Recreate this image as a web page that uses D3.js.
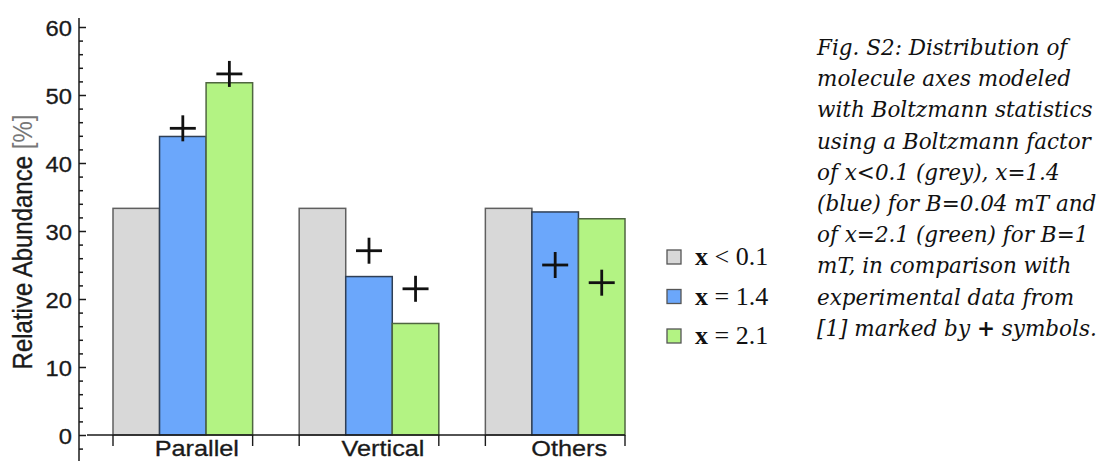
<!DOCTYPE html>
<html><head><meta charset="utf-8">
<script src="https://cdn.jsdelivr.net/npm/d3@7/dist/d3.min.js"></script>
<style>
html,body{margin:0;padding:0;background:#fff;}
svg{display:block;}
</style></head>
<body>
<svg id="chart" width="1099" height="461"></svg>
<script>
// ---- data ----
const categories = ["Parallel", "Vertical", "Others"];
const seriesKeys = ["grey", "blue", "green"];
const greyValues = [33.33, 33.33, 33.33];
const blueValues = [43.9, 23.3, 32.8];
const greenValues = [51.8, 16.4, 31.8];
const expBlue = [45.1, 27.1, 25.0];
const expGreen = [53.1, 21.5, 22.4];
const yMajorTicks = [0, 10, 20, 30, 40, 50, 60];
const yMinorTicks = d3.range(-2, 61, 2).filter(v => v % 10 !== 0);
const legendOps = ["<", "=", "="];
const legendVals = ["0.1", "1.4", "2.1"];
const captionLines = [
  "Fig. S2: Distribution of",
  "molecule axes modeled",
  "with Boltzmann statistics",
  "using a Boltzmann factor",
  "of x<0.1 (grey), x=1.4",
  "(blue) for B=0.04 mT and",
  "of x=2.1 (green) for B=1",
  "mT, in comparison with",
  "experimental data from",
  "[1] marked by + symbols."
];

const fills = {grey: "#d8d8d8", blue: "#6ba7fb", green: "#b3f383"};
const strokes = {grey: "#5f5f5f", blue: "#2f3f55", green: "#4f6640"};
const valuesBySeries = {grey: greyValues, blue: blueValues, green: greenValues};

const svg = d3.select("#chart");
const sans = "Liberation Sans, Arial, sans-serif";

// ---- scales ----
const y = d3.scaleLinear().domain([0, 60]).range([435, 27]);
const x0 = d3.scaleBand().domain(categories).range([113, 625]).paddingInner(0.25).paddingOuter(0);
const x1 = d3.scaleBand().domain(seriesKeys).range([0, x0.bandwidth()]).padding(0);

// ---- bars ----
const g = svg.append("g");
categories.forEach((c, ci) => {
  seriesKeys.forEach(k => {
    const v = valuesBySeries[k][ci];
    g.append("rect")
      .attr("x", x0(c) + x1(k))
      .attr("y", y(v))
      .attr("width", x1.bandwidth())
      .attr("height", y(0) - y(v))
      .attr("fill", fills[k])
      .attr("stroke", strokes[k])
      .attr("stroke-width", 1.5);
  });
});

// ---- x axis ----
svg.append("line").attr("x1", 87).attr("x2", x0.range()[1]).attr("y1", y(0)).attr("y2", y(0))
  .attr("stroke", "#1a1a1a").attr("stroke-width", 1.4);
const edgeTicks = [];
categories.forEach(c => { edgeTicks.push(x0(c)); edgeTicks.push(x0(c) + x0.bandwidth()); });
svg.selectAll(".xt").data(edgeTicks).join("line")
  .attr("x1", d => d).attr("x2", d => d)
  .attr("y1", y(0)).attr("y2", y(0) + 11)
  .attr("stroke", "#1a1a1a").attr("stroke-width", 1.4);
categories.forEach(c => {
  const cx = x0(c) + x0.bandwidth() / 2 + 14;
  svg.append("text")
    .attr("transform", `translate(${cx},${456}) scale(1.15,1)`)
    .attr("text-anchor", "middle")
    .attr("font-family", sans)
    .attr("font-size", 22)
    .attr("fill", "#1a1a1a")
    .attr("stroke", "#1a1a1a").attr("stroke-width", 0.3)
    .text(c);
});

// ---- y axis ----
const axX = 79;
svg.append("line").attr("x1", axX).attr("x2", axX).attr("y1", 18).attr("y2", 461)
  .attr("stroke", "#1a1a1a").attr("stroke-width", 1.5);
const yAxisMajor = d3.axisRight(y).tickValues(yMajorTicks).tickSize(7).tickSizeOuter(0).tickFormat("");
const yAxisMinor = d3.axisRight(y).tickValues(yMinorTicks).tickSize(4).tickSizeOuter(0).tickFormat("");
const ga = svg.append("g").attr("transform", `translate(${axX},0)`).call(yAxisMajor);
const gm = svg.append("g").attr("transform", `translate(${axX},0)`).call(yAxisMinor);
[ga, gm].forEach(s => {
  s.select(".domain").remove();
  s.selectAll("line").attr("stroke", "#1a1a1a").attr("stroke-width", 1.5);
});
yMajorTicks.forEach(t => {
  svg.append("text")
    .attr("transform", `translate(${72},${y(t) + 1}) scale(1.08,1)`)
    .attr("text-anchor", "end")
    .attr("dominant-baseline", "central")
    .attr("font-family", sans)
    .attr("font-size", 22)
    .attr("fill", "#1a1a1a")
    .attr("stroke", "#1a1a1a").attr("stroke-width", 0.3)
    .text(t);
});

// y label
const yl = svg.append("text")
  .attr("transform", `translate(${22},${242}) scale(1.15,1) rotate(-90)`)
  .attr("text-anchor", "middle")
  .attr("dominant-baseline", "central")
  .attr("font-family", sans)
  .attr("font-size", 24);
yl.append("tspan").attr("fill", "#1a1a1a").attr("stroke", "#1a1a1a").attr("stroke-width", 0.3).text("Relative Abundance ");
yl.append("tspan").attr("fill", "#777").text("[%]");

// ---- experimental "+" markers ----
const plusHalf = 13;
const expSeries = [["blue", expBlue], ["green", expGreen]];
expSeries.forEach(([k, arr]) => {
  arr.forEach((v, ci) => {
    const cx = x0(categories[ci]) + x1(k) + x1.bandwidth() / 2;
    const cy = y(v);
    const pg = svg.append("g").attr("stroke", "#111").attr("stroke-width", 2.8);
    pg.append("line").attr("x1", cx - plusHalf).attr("x2", cx + plusHalf).attr("y1", cy).attr("y2", cy);
    pg.append("line").attr("x1", cx).attr("x2", cx).attr("y1", cy - plusHalf).attr("y2", cy + plusHalf);
  });
});

// ---- legend ----
const legY = d3.scalePoint().domain(seriesKeys).range([257, 336]);
seriesKeys.forEach((k, i) => {
  const cy = legY(k);
  svg.append("rect").attr("x", 667).attr("y", cy - 7).attr("width", 14).attr("height", 14)
    .attr("fill", fills[k]).attr("stroke", "#555").attr("stroke-width", 1.3);
  const t = svg.append("text")
    .attr("x", 695).attr("y", cy + 8)
    .attr("font-family", "Liberation Serif, Times New Roman, serif")
    .attr("font-size", 26).attr("fill", "#111");
  t.append("tspan").attr("font-weight", "bold").text("x");
  t.append("tspan").text(" " + legendOps[i] + " " + legendVals[i]);
});

// ---- caption ----
captionLines.forEach((line, i) => {
  const t = svg.append("text")
    .attr("x", 817).attr("y", 55 + i * 31.2)
    .attr("font-family", "DejaVu Serif, serif")
    .attr("font-style", "italic")
    .attr("font-size", 21.5)
    .attr("fill", "#111");
  if (line.includes("+")) {
    const parts = line.split("+");
    t.append("tspan").text(parts[0]);
    t.append("tspan").attr("font-style", "normal").attr("font-weight", "bold").text("+");
    t.append("tspan").text(parts[1]);
  } else {
    t.text(line);
  }
});
</script>
</body></html>
